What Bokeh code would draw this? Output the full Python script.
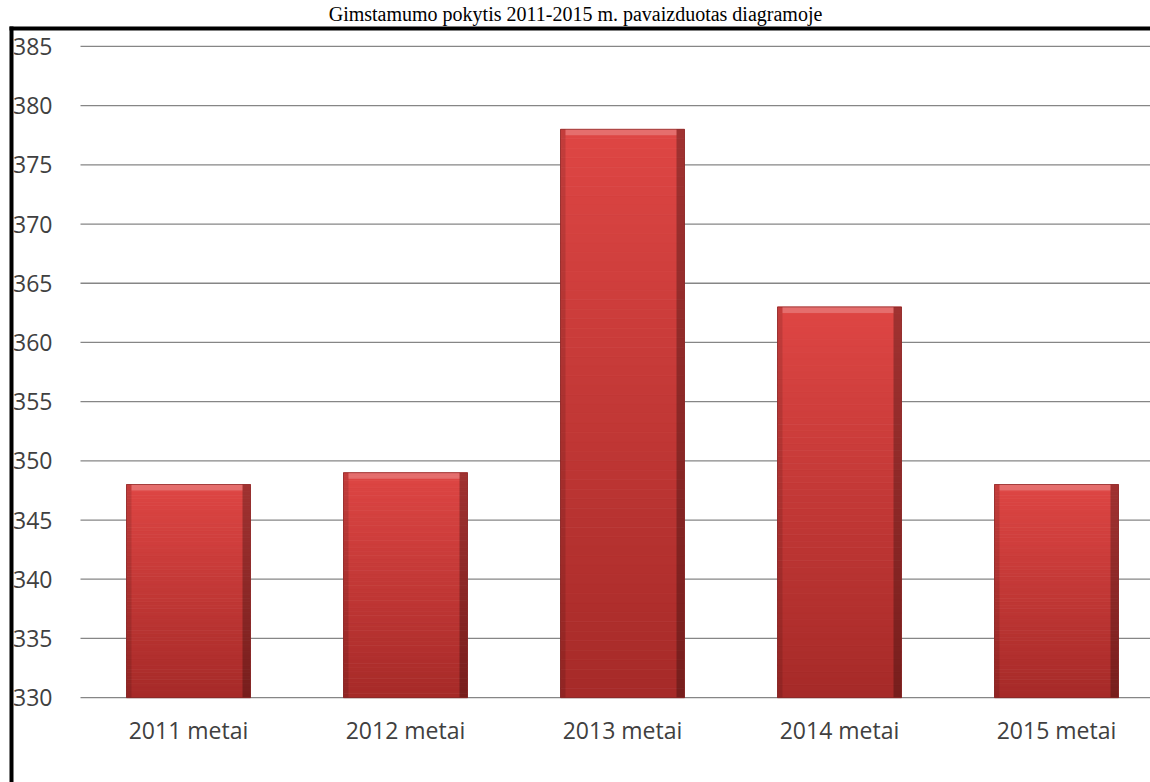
from bokeh.plotting import figure
from bokeh.models import Range1d, FixedTicker, LinearAxis, Title
from bokeh.embed import file_html
from bokeh.resources import INLINE

# ---------------- data ----------------
title_text = "Gimstamumo pokytis 2011-2015 m. pavaizduotas diagramoje"
categories = ["2011 metai", "2012 metai", "2013 metai", "2014 metai", "2015 metai"]
births = [348, 349, 378, 363, 348]
y_ticks = [330, 335, 340, 345, 350, 355, 360, 365, 370, 375, 380, 385]
y_min, y_max = 330, 385

# ---------------- layout (pixels) ----------------
W, H = 1150, 782
T = 24                 # title band height
plot_left_px = 80      # where the gridlines start
first_center_px = 188  # centre of first category
cat_px = 217.0         # category spacing
bar_px = 124.0         # bar width
y_top_px = 45          # pixel row of y_max
y_bot_px = 697         # pixel row of y_min
border_w = 4

# data <-> pixel mapping for the ranges (frame covers x 0..W, y T..H)
x_start = (0 - first_center_px) / cat_px
x_end = (W - first_center_px) / cat_px
u_per_px = (y_max - y_min) / (y_bot_px - y_top_px)
y_start = y_min - (H - y_bot_px) * u_per_px
y_end = y_max + (y_top_px - T) * u_per_px
x_axis_loc = (plot_left_px - first_center_px) / cat_px
px_per_unit = 1 / u_per_px

p = figure(width=W, height=H,
           x_range=Range1d(x_start, x_end),
           y_range=Range1d(y_start, y_end),
           x_axis_type=None, y_axis_type=None,
           output_backend="svg", toolbar_location=None,
           min_border_left=0, min_border_right=0,
           min_border_top=T, min_border_bottom=0)
p.outline_line_color = None
p.background_fill_color = "white"
p.border_fill_color = "white"
p.xgrid.visible = False
p.ygrid.visible = False

p.title = Title(text=title_text, align="center", text_font="Liberation Serif",
                text_font_size="20px", text_font_style="normal", text_color="black",
                standoff=1)

# pixel-space ranges for the frame border
p.extra_x_ranges = {"px": Range1d(0, W)}
p.extra_y_ranges = {"px": Range1d(H, T)}

label_color = "#404040"
yaxis = LinearAxis(ticker=FixedTicker(ticks=y_ticks), fixed_location=x_axis_loc)
yaxis.axis_line_color = None
yaxis.major_tick_line_color = None
yaxis.minor_tick_line_color = None
yaxis.major_label_standoff = 22
yaxis.major_label_text_font = "Open Sans"
yaxis.major_label_text_font_size = "23px"
yaxis.major_label_text_color = label_color
p.add_layout(yaxis, "left")

xs = list(range(len(categories)))
xaxis = LinearAxis(ticker=FixedTicker(ticks=xs), fixed_location=y_min)
xaxis.major_label_overrides = {i: c for i, c in zip(xs, categories)}
xaxis.axis_line_color = None
xaxis.major_tick_line_color = None
xaxis.minor_tick_line_color = None
xaxis.major_label_standoff = 10
xaxis.major_label_text_font = "Open Sans"
xaxis.major_label_text_font_size = "23px"
xaxis.major_label_text_color = label_color
p.add_layout(xaxis, "below")

# horizontal gridlines starting at the plot-area edge
p.segment(x0=[x_axis_loc] * len(y_ticks), x1=[x_end] * len(y_ticks),
          y0=y_ticks, y1=y_ticks, line_color="#868686", line_width=1.3)

# ---------------- bars (vertical gradient + bevel) ----------------
half = bar_px / cat_px / 2
N = 60
bot_rgb = (166, 42, 40)
top_rgb = (222, 70, 68)
L, R, B, Tp, C = [], [], [], [], []
for x, v in zip(xs, births):
    for k in range(N):
        f0, f1 = k / N, (k + 1) / N
        L.append(x - half); R.append(x + half)
        B.append(y_min + (v - y_min) * f0); Tp.append(y_min + (v - y_min) * f1)
        t = (f0 + f1) / 2
        rgb = tuple(int(round(b + (tt - b) * t)) for b, tt in zip(bot_rgb, top_rgb))
        C.append("#%02x%02x%02x" % rgb)
p.quad(left=L, right=R, bottom=B, top=Tp, fill_color=C, line_color=C, line_width=0.8)

lw = 5 / cat_px
rw = 8 / cat_px
bev = 6 / px_per_unit
n = len(xs)
p.quad(left=[x - half for x in xs], right=[x - half + lw for x in xs],
       bottom=[y_min] * n, top=births, fill_color="black", fill_alpha=0.12, line_color=None)
p.quad(left=[x + half - rw for x in xs], right=[x + half for x in xs],
       bottom=[y_min] * n, top=births, fill_color="black", fill_alpha=0.28, line_color=None)
p.quad(left=[x - half + lw for x in xs], right=[x + half - rw for x in xs],
       bottom=[v - bev for v in births], top=births, fill_color="white", fill_alpha=0.22,
       line_color=None)
p.quad(left=[x - half for x in xs], right=[x + half for x in xs],
       bottom=[y_min] * n, top=births, fill_color=None,
       line_color="#7a2020", line_alpha=0.6, line_width=1)

# ---------------- black frame lines (top + left) ----------------
bx, by = 9, T + 1
p.quad(left=[bx, bx], right=[W, bx + border_w],
       top=[by, by], bottom=[by + border_w, H],
       x_range_name="px", y_range_name="px",
       fill_color="black", line_color=None)

open("out.html", "w").write(file_html(p, INLINE))
